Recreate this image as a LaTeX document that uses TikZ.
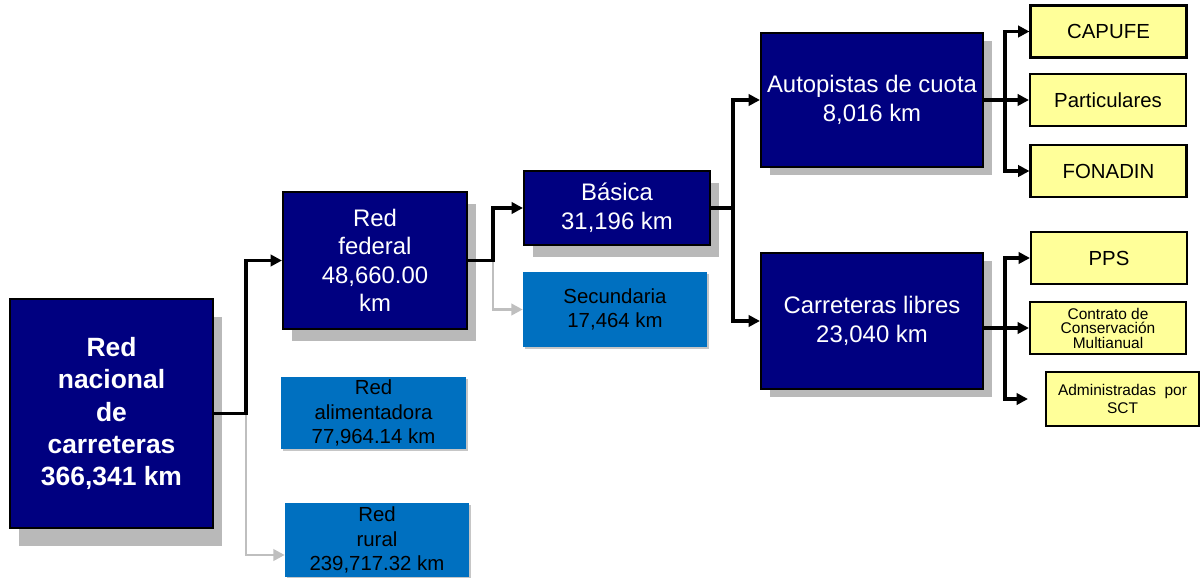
\documentclass[tikz,border=0pt]{standalone}
\usepackage{fontspec}
\setmainfont{Liberation Sans}
\usetikzlibrary{arrows.meta,shadows}
\definecolor{navybox}{HTML}{000080}
\definecolor{bluebox}{HTML}{0070C0}
\definecolor{yellowbox}{HTML}{FFFF99}

\begin{document}
\begin{tikzpicture}[
    dark/.style={rectangle, draw=black, line width=1.5pt, fill=navybox, text=white, align=center, inner sep=1pt,
        font=\fontsize{17}{20.3}\selectfont,
        drop shadow={shadow xshift=0.23cm, shadow yshift=#1, opacity=1, fill=gray!55}},
    dark/.default=-0.3cm,
    light/.style={rectangle, fill=bluebox, text=black, align=center, inner sep=1pt,
        font=\fontsize{14.5}{17.3}\selectfont,
        drop shadow={shadow xshift=0.05cm, shadow yshift=-0.05cm, opacity=1, fill=gray!45}},
    agency/.style={rectangle, draw=black, line width=1.5pt, fill=yellowbox, align=center, inner sep=1pt,
        minimum width=3.9cm, minimum height=1.3cm, font=\fontsize{14.5}{17}\selectfont},
    arrow/.style={-{Triangle[length=8pt,width=8pt]}, line width=2.2pt},
    grayarrow/.style={-{Triangle[length=8pt,width=8pt]}, line width=1.9pt, black!25}
]
\useasboundingbox (0,0) rectangle (30,14.425);

\node[dark=-0.45cm, minimum width=5.075cm, minimum height=5.725cm, font=\bfseries\fontsize{18.8}{23}\selectfont] (nac) at (2.7875,4.0875) {Red\\nacional\\de\\carreteras\\366,341 km};

\node[dark, minimum width=4.6cm, minimum height=3.425cm] (fed) at (9.375,7.9125) {Red\\federal\\48,660.00\\km};
\node[light, minimum width=4.625cm, minimum height=1.8cm] (ali) at (9.3375,4.1) {Red\\alimentadora\\77,964.14 km};
\node[light, minimum width=4.6cm, minimum height=1.85cm] (rur) at (9.425,0.925) {Red\\rural\\239,717.32 km};

\node[dark, minimum width=4.65cm, minimum height=1.85cm] (bas) at (15.425,9.225) {Básica\\31,196 km};
\node[light, minimum width=4.6cm, minimum height=1.875cm] (sec) at (15.375,6.6875) {Secundaria\\17,464 km};

\node[dark=-0.2cm, minimum width=5.55cm, minimum height=3.35cm] (aut) at (21.8,11.925) {Autopistas de cuota\\8,016 km};
\node[dark=-0.2cm, minimum width=5.55cm, minimum height=3.4cm] (lib) at (21.8,6.4) {Carreteras libres\\23,040 km};

\node[agency] (cap) at (27.7125,13.6375) {CAPUFE};
\node[agency] (par) at (27.7,11.925) {Particulares};
\node[agency] (fon) at (27.7125,10.15) {FONADIN};
\node[agency] (pps) at (27.725,7.975) {PPS};
\node[agency, font=\fontsize{11}{10.3}\selectfont] (con) at (27.7,6.225) {Contrato de\\Conservación\\Multianual};
\node[agency, minimum width=3.825cm, minimum height=1.35cm, font=\fontsize{11}{12.3}\selectfont] (adm) at (28.0625,4.45) {Administradas~~por\\SCT};

% junctions
\coordinate (j1) at (6.15,4.0875);
\coordinate (j2) at (12.325,7.9125);
\coordinate (j3) at (18.325,9.225);
\coordinate (j4) at (25.125,11.925);
\coordinate (j5) at (25.125,6.225);

\draw[grayarrow] (j1) |- ([yshift=-0.375cm]rur.west);
\draw[arrow] (nac.east) -- (j1) |- (fed.west);

\draw[grayarrow] (j2) |- (sec.west);
\draw[arrow] (fed.east) -- (j2) |- (bas.west);

\draw[arrow] (bas.east) -- (j3) |- (aut.west);
\draw[arrow] (j3) |- (lib.west);

\draw[arrow] (aut.east) -- (par.west);
\draw[arrow] (j4) |- (cap.west);
\draw[arrow] (j4) |- (fon.west);

\draw[arrow] (lib.east |- con.west) -- (con.west);
\draw[arrow] (j5) |- (pps.west);
\draw[arrow, shorten >=0.425cm] (j5) |- (adm.west);

\end{tikzpicture}
\end{document}
